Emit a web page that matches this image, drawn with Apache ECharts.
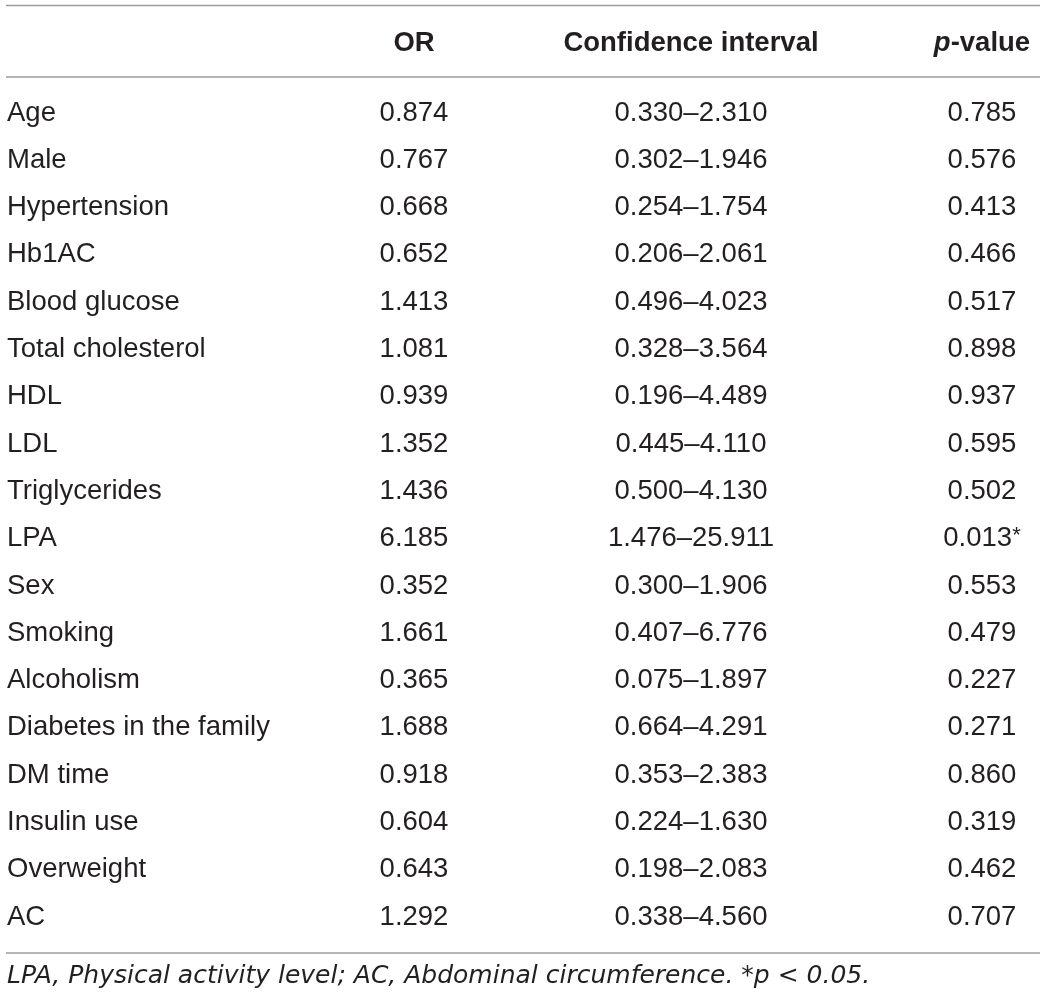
<!DOCTYPE html>
<html>
<head>
<meta charset="utf-8">
<script src="https://cdn.jsdelivr.net/npm/echarts@6/dist/echarts.min.js"></script>
<style>html,body{margin:0;padding:0;background:#fff;}#c{width:1040px;height:1001px;}</style>
</head>
<body>
<div id="c"></div>
<script>
const headers = ['OR', 'Confidence interval', 'p-value'];
const variables = ['Age','Male','Hypertension','Hb1AC','Blood glucose','Total cholesterol','HDL','LDL','Triglycerides','LPA','Sex','Smoking','Alcoholism','Diabetes in the family','DM time','Insulin use','Overweight','AC'];
const orValues = [0.874,0.767,0.668,0.652,1.413,1.081,0.939,1.352,1.436,6.185,0.352,1.661,0.365,1.688,0.918,0.604,0.643,1.292];
const ciLower = [0.330,0.302,0.254,0.206,0.496,0.328,0.196,0.445,0.500,1.476,0.300,0.407,0.075,0.664,0.353,0.224,0.198,0.338];
const ciUpper = [2.310,1.946,1.754,2.061,4.023,3.564,4.489,4.110,4.130,25.911,1.906,6.776,1.897,4.291,2.383,1.630,2.083,4.560];
const pValues = [0.785,0.576,0.413,0.466,0.517,0.898,0.937,0.595,0.502,0.013,0.553,0.479,0.227,0.271,0.860,0.319,0.462,0.707];
const footnote = 'LPA, Physical activity level; AC, Abdominal circumference. *p < 0.05.';

const FONT = '"Liberation Sans", Arial, Helvetica, sans-serif';
const FS = 27.5;
const TXT = '#231f20';
const colX = {name: 7, or: 414, ci: 691, p: 982};

function colSeries(x, align, texts, rich) {
  return {
    type: 'scatter',
    symbol: 'circle',
    symbolSize: 1,
    itemStyle: {color: 'rgba(0,0,0,0)', opacity: 1},
    silent: true,
    data: texts.map((t, i) => ({value: [x, variables[i]], txt: t})),
    label: {
      show: true,
      position: 'inside',
      align: align,
      verticalAlign: 'middle',
      fontFamily: FONT,
      fontSize: FS,
      color: TXT,
      opacity: 1,
      textBorderWidth: 0,
      formatter: p => p.data.txt,
      rich: rich || {}
    }
  };
}

const chart = echarts.init(document.getElementById('c'), null, {renderer: 'canvas'});
const lineStyle = {stroke: '#9d9d9d', lineWidth: 1.5};
chart.setOption({
  animation: false,
  grid: {left: 0, right: 0, top: 89.35, bottom: 60.35, containLabel: false},
  xAxis: {type: 'value', min: 0, max: 1040, show: false},
  yAxis: {type: 'category', data: variables, inverse: true, show: false},
  series: [
    colSeries(colX.name, 'left', variables),
    colSeries(colX.or, 'center', orValues.map(v => v.toFixed(3))),
    colSeries(colX.ci, 'center', ciLower.map((v, i) => v.toFixed(3) + '\u2013' + ciUpper[i].toFixed(3))),
    colSeries(colX.p, 'center', pValues.map(v => v < 0.05 ? v.toFixed(3) + '{s|*}' : v.toFixed(3)),
      {s: {fontFamily: FONT, fontSize: 22, color: TXT, verticalAlign: 'top', padding: [0,0,6,0]}})
  ],
  graphic: [
    {type: 'line', shape: {x1: 6, y1: 5.5, x2: 1040, y2: 5.5}, style: lineStyle},
    {type: 'line', shape: {x1: 6, y1: 77, x2: 1040, y2: 77}, style: lineStyle},
    {type: 'line', shape: {x1: 6, y1: 953, x2: 1040, y2: 953}, style: lineStyle},
    {type: 'text', x: colX.or, y: 43, style: {text: headers[0], font: 'bold ' + FS + 'px ' + FONT, fill: TXT, align: 'center', verticalAlign: 'middle'}},
    {type: 'text', x: colX.ci, y: 43, style: {text: headers[1], font: 'bold ' + FS + 'px ' + FONT, fill: TXT, align: 'center', verticalAlign: 'middle'}},
    {type: 'text', x: colX.p, y: 43, style: {
      text: '{i|p}{b|-value}', align: 'center', verticalAlign: 'middle',
      rich: {
        i: {fontFamily: FONT, fontSize: FS, fontWeight: 'bold', fontStyle: 'italic', fill: TXT, color: TXT},
        b: {fontFamily: FONT, fontSize: FS, fontWeight: 'bold', fill: TXT, color: TXT}
      }
    }},
    {type: 'text', x: 7, y: 976, style: {text: footnote, font: 'italic 25px "DejaVu Sans", sans-serif', fill: TXT, align: 'left', verticalAlign: 'middle'}}
  ]
});
</script>
</body>
</html>
